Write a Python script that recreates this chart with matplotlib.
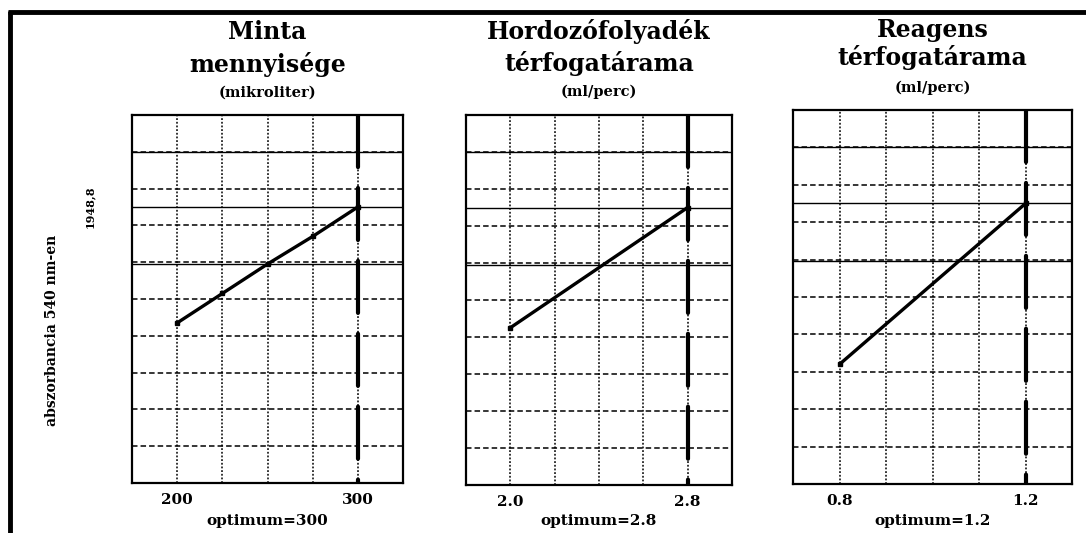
import matplotlib
matplotlib.use("Agg")
import matplotlib.pyplot as plt
from matplotlib.lines import Line2D
import numpy as np

# ---- data ----
titles = [["Minta", "mennyisége"], ["Hordozófolyadék", "térfogatárama"], ["Reagens", "térfogatárama"]]
units = ["(mikroliter)", "(ml/perc)", "(ml/perc)"]
optimum_labels = ["optimum=300", "optimum=2.8", "optimum=1.2"]

x1 = [200, 225, 250, 275, 300]
y1 = [4.35, 5.15, 5.95, 6.7, 7.5]
x2 = [2.0, 2.8]
y2 = [4.25, 7.5]
x3 = [0.8, 1.2]
y3 = [3.2, 7.5]

optima = [300, 2.8, 1.2]
xgrids = [[200, 225, 250, 275, 300], [2.0, 2.2, 2.4, 2.6, 2.8], [0.8, 0.9, 1.0, 1.1, 1.2]]
xtick_labels = [["200", "", "", "", "300"], ["2.0", "", "", "", "2.8"], ["0.8", "", "", "", "1.2"]]
xlims = [(175, 325), (1.8, 3.0), (0.7, 1.3)]
ygrid = [1, 2, 3, 4, 5, 6, 7, 8, 9]
ref_levels = [9.0, 7.5, 5.95]
ref_value_label = "1948,8"
ylabel = "abszorbancia 540 nm-en"

W, H = 1086, 533
fig = plt.figure(figsize=(W / 100, H / 100), dpi=100)
FONT = ["DejaVu Serif"]

def fx(px):
    return px / W

def fy(py):
    return 1 - py / H

# axes boxes in pixels: left, top, right, bottom
boxes = [(132, 115, 403, 483), (466, 115, 732, 485), (793, 110, 1072, 484)]
xs = [x1, x2, x3]
ys = [y1, y2, y3]
title_y = [(32, 64, 93), (32, 63, 92), (30, 58, 88)]

for i in range(3):
    l, t, r, b = boxes[i]
    ax = fig.add_axes([fx(l), fy(b), fx(r - l), (b - t) / H])
    ax.set_xlim(*xlims[i])
    ax.set_ylim(0, 10)
    # grid
    for gx in xgrids[i]:
        ax.axvline(gx, color="black", lw=1.1, linestyle=(0, (1.2, 1.2)), zorder=1)
    for gy in ygrid:
        ax.axhline(gy, color="black", lw=1.1, linestyle=(0, (3.6, 2)), zorder=1)
    for ry in ref_levels:
        ax.axhline(ry, color="black", lw=1.0, zorder=2)
    # optimum line (drawn top to bottom)
    ax.plot([optima[i], optima[i]], [10, 0], color="black", lw=3.0,
            linestyle=(0, (12.5, 5)), zorder=3, solid_capstyle="round",
            dash_capstyle="round")
    # data
    ax.plot(xs[i], ys[i], color="black", lw=2.4, marker="s", markersize=2.5, zorder=4,
            solid_capstyle="butt")
    ax.set_xticks(xgrids[i], labels=xtick_labels[i])
    ax.set_yticks([])
    ax.tick_params(axis="x", length=0, pad=7)
    for lab in ax.get_xticklabels():
        lab.set_fontfamily(FONT)
        lab.set_fontweight("bold")
        lab.set_fontsize(11)
    for sp in ax.spines.values():
        sp.set_linewidth(1.6)
    cx = (l + r) / 2
    fig.text(fx(cx), fy(title_y[i][0]), titles[i][0], ha="center", va="center",
             fontfamily=FONT, fontweight="bold", fontsize=17)
    fig.text(fx(cx), fy(title_y[i][1]), titles[i][1], ha="center", va="center",
             fontfamily=FONT, fontweight="bold", fontsize=17)
    fig.text(fx(cx), fy(title_y[i][2]), units[i], ha="center", va="center",
             fontfamily=FONT, fontweight="bold", fontsize=10.5)
    fig.text(fx(cx), fy(521), optimum_labels[i], ha="center", va="center",
             fontfamily=FONT, fontweight="bold", fontsize=11)
    if i == 0:
        ax.text(-0.155, ref_levels[1], ref_value_label, rotation=90, ha="center", va="center",
                transform=ax.get_yaxis_transform(), fontfamily=FONT, fontweight="bold",
                fontsize=8, clip_on=False)

fig.text(fx(52), fy(330), ylabel, rotation=90, ha="center", va="center",
         fontfamily=FONT, fontweight="bold", fontsize=10)

# figure frame lines (top and left)
fig.add_artist(Line2D([fx(8), fx(1086)], [fy(12), fy(12)], color="black", lw=3.5,
                      transform=fig.transFigure, solid_capstyle="butt"))
fig.add_artist(Line2D([fx(10), fx(10)], [fy(10.5), fy(533)], color="black", lw=3.5,
                      transform=fig.transFigure, solid_capstyle="butt"))

fig.savefig("out.png", dpi=100)
